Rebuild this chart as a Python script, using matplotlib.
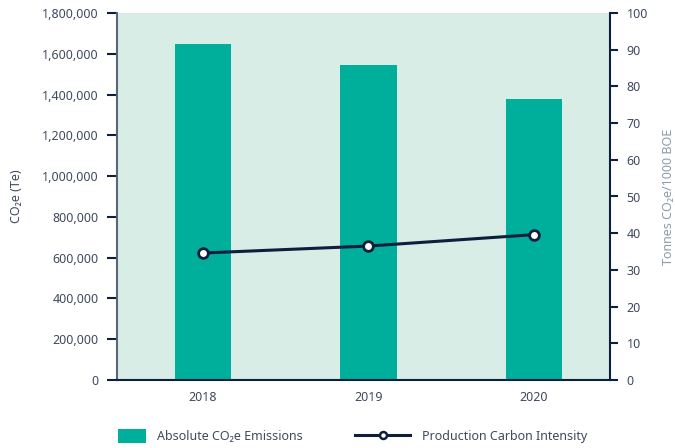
import matplotlib
matplotlib.use("Agg")
import matplotlib.pyplot as plt
from matplotlib.ticker import FuncFormatter, MultipleLocator
from matplotlib.lines import Line2D
from matplotlib.patches import Patch

plt.rcParams['font.family'] = ['Noto Sans', 'DejaVu Sans']

years = ['2018', '2019', '2020']
emissions = [1650000, 1543000, 1380000]      # tonnes CO2e
intensity = [34.6, 36.5, 39.6]               # tonnes CO2e / 1000 BOE

TEAL = '#00ae9c'
BG = '#d8ede6'
NAVY = '#0e1f3d'
TXT = '#3f4a5e'
LIGHT = '#8a9bab'

fig = plt.figure(figsize=(6.75, 4.48), dpi=100)
ax = fig.add_axes([117 / 675, 1 - 380 / 448, 493 / 675, 367 / 448])
ax.set_facecolor(BG)

x = range(len(years))
ax.bar(x, emissions, width=0.34, color=TEAL, zorder=2)
ax.set_xlim(-0.52, 2.46)
ax.set_ylim(0, 1800000)
ax.yaxis.set_major_locator(MultipleLocator(200000))
ax.yaxis.set_major_formatter(FuncFormatter(lambda v, p: f'{int(v):,}'))
ax.set_xticks(list(x))
ax.set_xticklabels(years)
ax.tick_params(axis='x', length=0, pad=8, labelsize=9, colors=TXT)
ax.tick_params(axis='y', length=7, width=1.5, color=NAVY, labelsize=9,
               labelcolor=TXT, pad=6)
ax.set_ylabel('CO₂e (Te)', fontsize=9, color=TXT, labelpad=14)

for s in ['top', 'right']:
    ax.spines[s].set_visible(False)
ax.spines['left'].set_color('#5a6577')
ax.spines['left'].set_linewidth(1.5)
ax.spines['bottom'].set_color(NAVY)
ax.spines['bottom'].set_linewidth(1.5)

ax2 = ax.twinx()
ax2.plot(list(x), intensity, color=NAVY, linewidth=2.2, marker='o',
         markersize=7, markerfacecolor='white', markeredgecolor=NAVY,
         markeredgewidth=2, zorder=3)
ax2.set_ylim(0, 100)
ax2.yaxis.set_major_locator(MultipleLocator(10))
ax2.tick_params(axis='y', length=6, width=1.5, color=NAVY, labelsize=9,
                labelcolor=TXT, pad=6)
ax2.set_ylabel('Tonnes CO₂e/1000 BOE', fontsize=9, color=LIGHT, labelpad=10)
for s in ['top', 'left', 'bottom']:
    ax2.spines[s].set_visible(False)
ax2.spines['right'].set_color(NAVY)
ax2.spines['right'].set_linewidth(1.5)

# two legend entries with different handle widths
bar_handle = Patch(facecolor=TEAL, label='Absolute CO₂e Emissions')
line_handle = Line2D([0], [0], color=NAVY, linewidth=2.2, marker='o',
                     markersize=5, markerfacecolor='white',
                     markeredgecolor=NAVY, markeredgewidth=1.8,
                     label='Production Carbon Intensity')
leg_y = 1 - 436 / 448
fig.legend(handles=[bar_handle], loc='center left',
           bbox_to_anchor=(118 / 675, leg_y), frameon=False, fontsize=9,
           labelcolor=TXT, borderpad=0, borderaxespad=0,
           handlelength=2.2, handleheight=1.45, handletextpad=0.95)
fig.legend(handles=[line_handle], loc='center left',
           bbox_to_anchor=(355 / 675, leg_y), frameon=False, fontsize=9,
           labelcolor=TXT, borderpad=0, borderaxespad=0,
           handlelength=4.4, handletextpad=1.0)

fig.savefig('out.png', dpi=100)
